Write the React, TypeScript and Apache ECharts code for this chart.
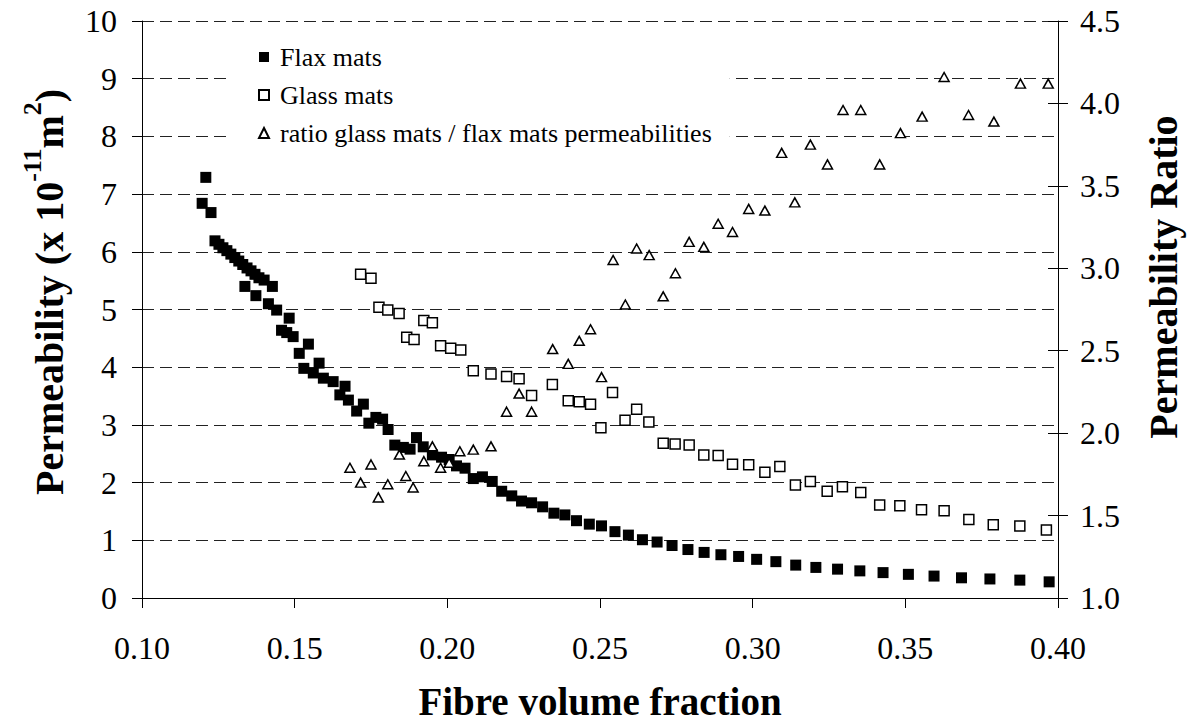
import React, { useEffect, useRef } from 'react';
import * as echarts from 'echarts';

const FONT = 'Liberation Serif';

const seriesNames = ['Flax mats', 'Glass mats', 'ratio glass mats / flax mats permeabilities'];

const flaxX = [0.1209, 0.1197, 0.1226, 0.1239, 0.1252, 0.1265, 0.1278, 0.1291, 0.1304, 0.1317, 0.133, 0.1344, 0.1357, 0.137, 0.1383,
  0.1337, 0.1373, 0.14, 0.1427, 0.1414, 0.1441, 0.1482, 0.1457, 0.1474, 0.1495, 0.1545, 0.1515, 0.158, 0.153, 0.1561,
  0.1594, 0.1626, 0.1665, 0.1648, 0.1676, 0.1725, 0.1703, 0.1743, 0.1766, 0.1788, 0.1806, 0.1899, 0.1828, 0.1856, 0.1878,
  0.1921, 0.1951, 0.1981, 0.2006, 0.203, 0.2058, 0.2085, 0.2115, 0.2147, 0.2178, 0.2211, 0.2243, 0.2276, 0.2312, 0.2349,
  0.2385, 0.2423, 0.2465, 0.2505, 0.2549, 0.2593, 0.2639, 0.2687, 0.2736, 0.2788, 0.2841, 0.2896, 0.2954, 0.3013, 0.3076,
  0.3141, 0.3207, 0.3278, 0.3351, 0.3427, 0.351, 0.3594, 0.3684, 0.3777, 0.3875, 0.3971];
const flaxY = [7.29, 6.84, 6.68, 6.19, 6.13, 6.07, 6.02, 5.96, 5.9, 5.84, 5.78, 5.72, 5.67, 5.61, 5.55,
  5.4, 5.24, 5.51, 5.4, 5.1, 4.99, 4.85, 4.64, 4.6, 4.53, 4.4, 4.24, 4.07, 3.98, 3.9,
  3.81, 3.75, 3.67, 3.52, 3.43, 3.36, 3.24, 3.03, 3.13, 3.1, 2.92, 2.78, 2.65, 2.61, 2.58,
  2.62, 2.48, 2.44, 2.4, 2.29, 2.25, 2.07, 2.1, 2.02, 1.85, 1.77, 1.68, 1.65, 1.58, 1.47,
  1.44, 1.34, 1.28, 1.25, 1.15, 1.09, 1.01, 0.97, 0.91, 0.84, 0.79, 0.75, 0.72, 0.67, 0.63,
  0.57, 0.53, 0.5, 0.47, 0.44, 0.41, 0.38, 0.35, 0.33, 0.31, 0.28];

const glassX = [0.1716, 0.175, 0.1776, 0.1805, 0.1842, 0.1867, 0.1891, 0.1923, 0.1951, 0.1978, 0.2011, 0.2044, 0.2085, 0.2143,
  0.2194, 0.2235, 0.2276, 0.2344, 0.2396, 0.2432, 0.2469, 0.2503, 0.2541, 0.2582, 0.262, 0.266, 0.2707, 0.2746, 0.2792,
  0.284, 0.2887, 0.2934, 0.2987, 0.304, 0.3089, 0.314, 0.3189, 0.3244, 0.3294, 0.3354, 0.3416, 0.3482, 0.3553, 0.3627,
  0.3708, 0.3788, 0.3875, 0.3962];
const glassY = [5.61, 5.54, 5.04, 4.99, 4.93, 4.52, 4.48, 4.81, 4.77, 4.37, 4.33, 4.3, 3.94, 3.88,
  3.84, 3.8, 3.51, 3.7, 3.42, 3.4, 3.36, 2.95, 3.56, 3.08, 3.27, 3.05, 2.68, 2.67, 2.65,
  2.48, 2.47, 2.32, 2.31, 2.18, 2.28, 1.96, 2.02, 1.85, 1.93, 1.83, 1.61, 1.6, 1.53, 1.51,
  1.36, 1.27, 1.25, 1.18];

const ratioX = [0.1681, 0.1716, 0.175, 0.1774, 0.1805, 0.1843, 0.1864, 0.1888, 0.1923, 0.1951, 0.1978, 0.2006, 0.2041, 0.2085,
  0.2143, 0.2194, 0.2235, 0.2276, 0.2345, 0.2396, 0.2432, 0.2469, 0.2505, 0.2543, 0.2583, 0.262, 0.2661, 0.2707, 0.2747,
  0.2792, 0.284, 0.2887, 0.2934, 0.2987, 0.304, 0.3095, 0.3138, 0.3189, 0.3245, 0.3296, 0.3354, 0.3416, 0.3484, 0.3555,
  0.3627, 0.3707, 0.379, 0.3877, 0.3968];
const ratioY = [1.79, 1.7, 1.81, 1.61, 1.69, 1.87, 1.74, 1.67, 1.83, 1.92, 1.79, 1.82, 1.89, 1.9,
  1.92, 2.13, 2.24, 2.13, 2.51, 2.42, 2.56, 2.63, 2.34, 3.05, 2.78, 3.12, 3.08, 2.83, 2.97,
  3.16, 3.13, 3.27, 3.22, 3.36, 3.35, 3.7, 3.4, 3.75, 3.63, 3.96, 3.96, 3.63, 3.82, 3.92,
  4.16, 3.93, 3.89, 4.12, 4.12];

const zip = (xs: number[], ys: number[]) => xs.map((x, i) => [x, ys[i]]);

export default function App() {
  const ref = useRef<HTMLDivElement>(null);
  useEffect(() => {
    if (!ref.current) return;
    const chart = echarts.init(ref.current, undefined, { renderer: 'svg' });
    const labelStyle = { color: '#000', fontFamily: FONT, fontWeight: 'normal', fontSize: 32 };
    chart.setOption({
      animation: false,
      backgroundColor: '#fff',
      textStyle: { fontFamily: FONT },
      grid: { left: 142, right: 134, top: 21, bottom: 126, containLabel: false, outerBoundsMode: 'none' },
      legend: {
        orient: 'vertical',
        left: 228,
        top: 34,
        padding: [10, 18, 10, 30],
        backgroundColor: '#fff',
        itemWidth: 10,
        itemHeight: 10,
        itemGap: 12,
        data: seriesNames,
        textStyle: { color: '#000', fontFamily: FONT, fontWeight: 'normal', fontSize: 26, lineHeight: 26, padding: [0, 0, 0, 6] },
      },
      xAxis: {
        type: 'value', min: 0.1, max: 0.4, interval: 0.05,
        axisLine: { lineStyle: { color: '#000', width: 1 } },
        axisTick: { inside: false, length: 10, lineStyle: { color: '#000' } },
        axisLabel: { ...labelStyle, margin: 34, formatter: (v: number) => v.toFixed(2) },
        splitLine: { show: false },
      },
      yAxis: [
        {
          type: 'value', min: 0, max: 10, interval: 1, position: 'left',
          axisLine: { show: true, lineStyle: { color: '#000', width: 1 } },
          axisTick: { show: true, inside: false, length: 10, lineStyle: { color: '#000' } },
          axisLabel: { ...labelStyle, margin: 25 },
          splitLine: { show: true, lineStyle: { color: '#222', type: [12, 6], width: 1 } },
        },
        {
          type: 'value', min: 1, max: 4.5, interval: 0.5, position: 'right',
          axisLine: { show: true, lineStyle: { color: '#000', width: 1 } },
          axisTick: { show: true, inside: false, length: 10, lineStyle: { color: '#000' } },
          axisLabel: { ...labelStyle, margin: 22, formatter: (v: number) => v.toFixed(1) },
          splitLine: { show: false },
        },
        {
          type: 'value', min: 1, max: 4.5, interval: 0.5, position: 'right',
          axisLine: { show: false },
          axisTick: { show: true, inside: true, length: 10, lineStyle: { color: '#000' } },
          axisLabel: { show: false },
          splitLine: { show: false },
        },
      ],
      series: [
        {
          name: seriesNames[0], type: 'scatter', yAxisIndex: 0, symbol: 'rect', symbolSize: 11,
          itemStyle: { color: '#000', opacity: 1 }, data: zip(flaxX, flaxY),
        },
        {
          name: seriesNames[1], type: 'scatter', yAxisIndex: 0, symbol: 'rect', symbolSize: 10,
          itemStyle: { color: '#fff', borderColor: '#000', borderWidth: 1.5, opacity: 1 }, data: zip(glassX, glassY),
        },
        {
          name: seriesNames[2], type: 'scatter', yAxisIndex: 1, symbol: 'triangle', symbolSize: [10, 9],
          itemStyle: { color: '#fff', borderColor: '#000', borderWidth: 1.5, opacity: 1 }, data: zip(ratioX, ratioY),
        },
      ],
      graphic: [
        {
          type: 'text', x: 600, y: 701,
          style: { text: 'Fibre volume fraction', fontFamily: FONT, fontSize: 39, fontWeight: 'bold', fill: '#000', align: 'center', verticalAlign: 'middle', textAlign: 'center', textVerticalAlign: 'middle' },
        },
        {
          type: 'text', x: 44, y: 292, rotation: Math.PI / 2,
          style: {
            text: '{a|Permeability (x 10}{s|-11}{a|m}{s|2}{a|)}',
            fill: '#000', align: 'center', verticalAlign: 'middle', textAlign: 'center', textVerticalAlign: 'middle',
            rich: {
              a: { fontFamily: FONT, fontSize: 40, fontWeight: 'bold', lineHeight: 50, verticalAlign: 'bottom', fill: '#000', color: '#000' },
              s: { fontFamily: FONT, fontSize: 26, fontWeight: 'bold', lineHeight: 26, verticalAlign: 'top', fill: '#000', color: '#000' },
            },
          },
        },
        {
          type: 'text', x: 1163, y: 277, rotation: Math.PI / 2,
          style: { text: 'Permeability Ratio', fontFamily: FONT, fontSize: 40, fontWeight: 'bold', fill: '#000', align: 'center', verticalAlign: 'middle', textAlign: 'center', textVerticalAlign: 'middle' },
        },
      ],
    });
    return () => chart.dispose();
  }, []);
  return <div ref={ref} style={{ position: 'fixed', left: 0, top: 0, width: 1192, height: 724, background: '#fff' }} />;
}
